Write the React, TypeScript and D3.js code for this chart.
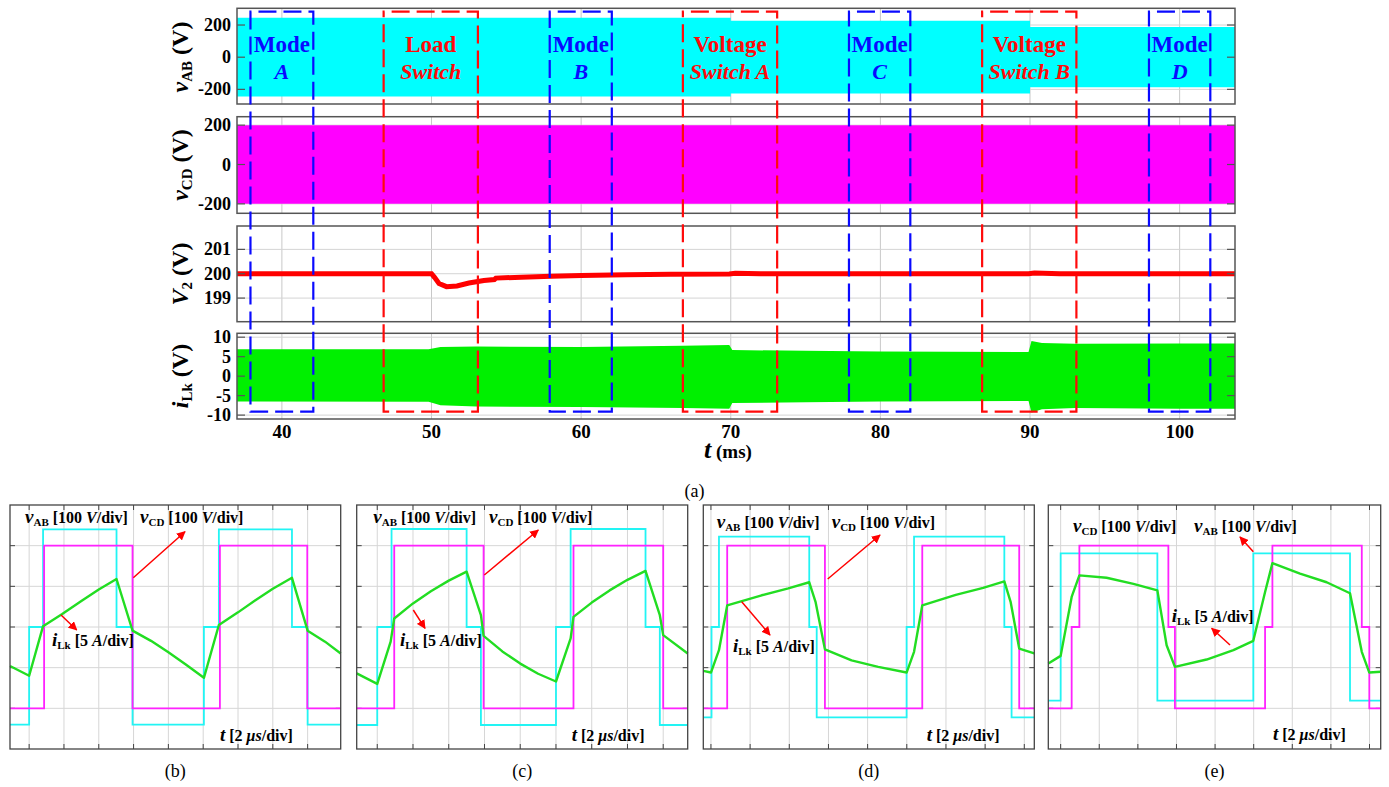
import React from "react";
import * as d3 from "d3";

const serif = "'Liberation Serif', 'Times New Roman', Times, serif";

// ---------- (a) long-run traces, t in ms ----------
const msTicks = [40, 50, 60, 70, 80, 90, 100];
// [t, amplitude] of the vAB / vCD switching bands
const vabAmplitude: [number, number][] = [[37, 245], [70, 226], [90, 187], [103.7, 187]];
const vcdAmplitude: [number, number][] = [[37, 200], [103.7, 200]];
// output voltage V2
const v2Trace: [number, number][] = [
  [37, 200], [50, 200], [50.2, 199.85], [50.5, 199.6], [51, 199.47], [51.7, 199.5],
  [52.5, 199.62], [53.5, 199.72], [54.2, 199.76], [54.3, 199.82], [56, 199.86],
  [58, 199.9], [60, 199.93], [63, 199.96], [66, 199.98], [69.9, 199.99], [70.3, 200.02],
  [72, 200], [89.9, 200], [90.3, 200.03], [92, 200], [103.7, 200],
];
// iLk envelope [t, upper, lower]
const ilkEnvelope: [number, number, number][] = [
  [37, 6.9, -6.5], [49.8, 6.9, -6.6], [50.6, 7.5, -7.5], [53, 7.6, -7.8], [60, 7.5, -7.9],
  [66.8, 7.8, -8.2], [69.9, 8.0, -8.4], [70.1, 6.7, -6.9], [75, 6.5, -6.7], [80, 6.3, -6.5],
  [89.9, 6.2, -6.4], [90.1, 9.0, -9.3], [90.8, 8.5, -8.5], [93, 8.3, -8.2], [100, 8.4, -8.4],
  [103.7, 8.4, -8.4],
];

const windowStart = [37.9, 46.8, 57.9, 66.8, 77.9, 86.8, 97.95];
const windowEnd = [42.1, 53.1, 62.05, 73.1, 82.0, 93.1, 102.05];
const windowKind = ["mode", "switch", "mode", "switch", "mode", "switch", "mode"];
const windowLine1 = ["Mode", "Load", "Mode", "Voltage", "Mode", "Voltage", "Mode"];
const windowLine2 = ["A", "Switch", "B", "Switch A", "C", "Switch B", "D"];

const rows = [
  { top: 8.3, bottom: 104, domain: [-291, 304], ticks: [200, 0, -200], sym: "v", sub: "AB" },
  { top: 116.7, bottom: 213.3, domain: [-248, 243], ticks: [200, 0, -200], sym: "v", sub: "CD" },
  { top: 226, bottom: 321.7, domain: [198.03, 201.96], ticks: [201, 200, 199], sym: "V", sub: "2" },
  { top: 333.3, bottom: 419, domain: [-11, 11], ticks: [10, 5, 0, -5, -10], sym: "i", sub: "Lk" },
];

// ---------- (b)-(e) scope captures, t in us, volts / amps ----------
const vabB: [number, number][] = [[-1.1, -240], [0, 0], [0.8, 240], [5.02, 0], [5.94, -240], [10.04, 0], [10.9, 240], [15.1, 0], [16.0, -240], [17.9, -240]];
const vcdB: [number, number][] = [[-1.1, -200], [0.86, 200], [5.94, -200], [10.96, 200], [15.98, -200], [17.9, -200]];
const ilkB: [number, number][] = [
  [-1.1, -4.8], [0, -6.0], [0.8, 0.1], [1.9, 1.6], [3.0, 3.2], [4.0, 4.6], [5.02, 5.9],
  [5.94, -0.45], [7.0, -1.7], [8.0, -3.1], [9.0, -4.6], [10.04, -6.25], [10.9, 0.25],
  [12.0, 1.8], [13.0, 3.3], [14.0, 4.7], [15.1, 6.05], [16.0, -0.45], [17.0, -1.8], [17.9, -3.25],
];

const vabC: [number, number][] = [[-1.15, -241], [0, 0], [0.8, 241], [5.0, 0], [5.8, -241], [10.0, 0], [10.82, 241], [15.01, 0], [15.81, -241], [17.37, -241]];
const vcdC: [number, number][] = [[-1.15, -200], [0.95, 200], [5.95, -200], [10.98, 200], [16.0, -200], [17.37, -200]];
const ilkC: [number, number][] = [
  [-1.15, -5.7], [0, -7.0], [0.75, -1.8], [0.95, 1.05], [2.0, 2.9], [3.0, 4.4], [4.0, 5.7],
  [5.0, 6.8], [5.8, 1.45], [5.95, -1.1], [7.0, -3.0], [8.0, -4.5], [9.0, -5.75], [10.0, -6.7],
  [10.82, -1.4], [10.98, 1.25], [12.0, 3.0], [13.0, 4.5], [14.0, 5.8], [15.01, 6.9],
  [15.81, 1.45], [16.0, -1.0], [17.37, -3.25],
];

const vabD: [number, number][] = [[-0.39, -222], [0.03, 0], [0.41, 222], [5.02, 0], [5.4, -222], [9.99, 0], [10.37, 222], [14.98, 0], [15.35, -222], [16.51, -222]];
const vcdD: [number, number][] = [[-0.39, -200], [0.83, 200], [5.82, -200], [10.79, 200], [15.74, -200], [16.51, -200]];
const ilkD: [number, number][] = [
  [-0.39, -5.4], [0, -5.6], [0.41, -2.85], [0.83, 2.65], [2.59, 3.9], [3.95, 4.75], [5.02, 5.5],
  [5.34, 3.1], [5.82, -2.75], [7.18, -4.1], [8.54, -4.9], [9.99, -5.6], [10.37, -3.05],
  [10.79, 2.65], [12.5, 3.95], [13.9, 4.8], [14.98, 5.6], [15.3, 3.1], [15.74, -2.65], [16.51, -3.25],
];

const vabE: [number, number][] = [[-0.64, -181], [0, 181], [5.01, -181], [9.98, 181], [14.99, -181], [16.58, -181]];
const vcdE: [number, number][] = [[-0.64, -200], [0.57, 0], [0.97, 200], [5.58, 0], [5.92, -200], [10.59, 0], [10.97, 200], [15.6, 0], [15.99, -200], [16.58, -200]];
const ilkE: [number, number][] = [
  [-0.64, -4.5], [0, -3.55], [0.57, 3.7], [0.97, 6.35], [2.38, 6.05], [3.77, 5.3], [5.01, 4.5],
  [5.49, -2.25], [5.92, -4.9], [7.56, -4.0], [8.95, -2.85], [9.98, -1.7], [10.59, 4.3],
  [10.97, 7.85], [12.4, 6.55], [13.78, 5.5], [14.99, 4.15], [15.6, -3.05], [15.99, -5.6], [16.58, -5.5],
];

const scopes = [
  {
    caption: "(b)", x0: 10, x1: 340.7, t: [-1.1, 17.9], vab: vabB, vcd: vcdB, ilk: ilkB,
    lab: { vab: [25, 523], vcd: [140, 523], ilk: [52, 646], t: [220, 741] },
    arrows: [[133.3, 577.7, 185, 531.7], [61, 615, 76.7, 630]],
  },
  {
    caption: "(c)", x0: 356.7, x1: 687.7, t: [-1.15, 17.37], vab: vabC, vcd: vcdC, ilk: ilkC,
    lab: { vab: [373.3, 523], vcd: [489, 523], ilk: [400, 646], t: [571.7, 741] },
    arrows: [[484.3, 575, 538.3, 530], [413.3, 610, 425, 628.3]],
  },
  {
    caption: "(d)", x0: 703.3, x1: 1034.3, t: [-0.39, 16.51], vab: vabD, vcd: vcdD, ilk: ilkD,
    lab: { vab: [716.7, 528], vcd: [831.7, 528], ilk: [733, 652], t: [926.7, 741] },
    arrows: [[827.7, 579, 880, 535], [741.7, 601.7, 770, 635]],
  },
  {
    caption: "(e)", x0: 1048.3, x1: 1380.7, t: [-0.64, 16.58], vab: vabE, vcd: vcdE, ilk: ilkE,
    lab: { vab: [1194, 532], vcd: [1073, 532], ilk: [1171.7, 622], t: [1273, 740] },
    arrows: [[1253.3, 551.7, 1240, 537], [1230, 645, 1211.7, 628.3]],
  },
];

const CYAN = "#22f4f4";
const MAGENTA = "#ff22ff";
const GREEN = "#22dd22";

function ScaleLabel({ x, y, sym, sub, amount, unit }: any) {
  return (
    <text x={x} y={y} fontSize={16} fontWeight="bold" fontFamily={serif}>
      <tspan fontStyle="italic" fontSize={19}>{sym}</tspan>
      {sub ? <tspan fontSize={11} dy={3}>{sub}</tspan> : null}
      <tspan dy={sub ? -3 : 0}>{` [${amount} `}</tspan>
      <tspan fontStyle="italic">{unit}</tspan>
      <tspan>/div]</tspan>
    </text>
  );
}

function LongRun() {
  const L = 237, R = 1235;
  const x = d3.scaleLinear().domain([37, 103.7]).range([L, R]);
  const ys = rows.map(r => d3.scaleLinear().domain(r.domain).range([r.bottom, r.top]));

  const band = (y: d3.ScaleLinear<number, number>) =>
    d3.area<[number, number]>().x(d => x(d[0])).y0(d => y(-d[1])).y1(d => y(d[1])).curve(d3.curveStepAfter);
  const ilkArea = d3.area<[number, number, number]>().x(d => x(d[0])).y0(d => ys[3](d[2])).y1(d => ys[3](d[1]));
  const v2Line = d3.line<[number, number]>().x(d => x(d[0])).y(d => ys[2](d[1]));

  const labelY = [57, 165, 274, 376];
  const boxTop = 11.7, boxBottom = 411.7;

  return (
    <g fontFamily={serif}>
      {rows.map((r, i) => (
        <g key={"p" + i}>
          <rect x={L} y={r.top} width={R - L} height={r.bottom - r.top} fill="#fff" />
          {msTicks.map(t => (
            <line key={t} x1={x(t)} x2={x(t)} y1={r.top} y2={r.bottom} stroke="#c8c8c8" strokeWidth={1} />
          ))}
          {r.ticks.map(v => (
            <line key={v} x1={L} x2={R} y1={ys[i](v)} y2={ys[i](v)} stroke="#d4d4d4" strokeWidth={1} />
          ))}
        </g>
      ))}

      <path d={band(ys[0])(vabAmplitude) || ""} fill="#00ffff" />
      <path d={band(ys[1])(vcdAmplitude) || ""} fill="#ff00ff" />
      <path d={v2Line(v2Trace) || ""} fill="none" stroke="#ff0000" strokeWidth={5} />
      <path d={ilkArea(ilkEnvelope) || ""} fill="#00f000" />

      {rows.map((r, i) => (
        <g key={"f" + i}>
          {r.ticks.map(v => (
            <g key={v}>
              <line x1={L} x2={L + 8} y1={ys[i](v)} y2={ys[i](v)} stroke="#555" strokeWidth={1.2} />
              <line x1={R - 8} x2={R} y1={ys[i](v)} y2={ys[i](v)} stroke="#555" strokeWidth={1.2} />
              <text x={L - 6} y={ys[i](v) + 6} textAnchor="end" fontSize={18} fontWeight="bold">{v}</text>
            </g>
          ))}
          <rect x={L} y={r.top} width={R - L} height={r.bottom - r.top} fill="none" stroke="#555" strokeWidth={1.5} />
          <text transform={`translate(188,${labelY[i]}) rotate(-90)`} textAnchor="middle" fontSize={24} fontWeight="bold">
            <tspan fontStyle="italic">{r.sym}</tspan>
            <tspan fontSize={15} dy={4}>{r.sub}</tspan>
            <tspan dy={-4}> (V)</tspan>
          </text>
        </g>
      ))}

      {msTicks.map(t => (
        <text key={t} x={x(t)} y={438} textAnchor="middle" fontSize={19} fontWeight="bold">{t}</text>
      ))}
      <text x={728} y={458} textAnchor="middle" fontWeight="bold">
        <tspan fontStyle="italic" fontSize={26}>t</tspan>
        <tspan fontSize={19}> (ms)</tspan>
      </text>

      {windowStart.map((t0, i) => {
        const t1 = windowEnd[i];
        const col = windowKind[i] === "mode" ? "#0a0aff" : "#ff0a0a";
        const cx = x((t0 + t1) / 2);
        return (
          <g key={"w" + i}>
            <path
              d={`M${x(t0)},${boxTop}H${x(t1)}V${boxBottom}H${x(t0)}Z`}
              fill="none" stroke={col} strokeWidth={2.2} strokeDasharray="18 7" strokeDashoffset={-8}
            />
            <text x={cx} y={52} textAnchor="middle" fontSize={23} fontWeight="bold" fill={col}>{windowLine1[i]}</text>
            <text x={cx} y={79} textAnchor="middle" fontSize={22} fontWeight="bold" fontStyle="italic" fill={col}>{windowLine2[i]}</text>
          </g>
        );
      })}

      <text x={694.5} y={497} textAnchor="middle" fontSize={18}>(a)</text>
    </g>
  );
}

function Scope({ cfg }: any) {
  const top = 505, bottom = 749;
  const x = d3.scaleLinear().domain(cfg.t).range([cfg.x0, cfg.x1]);
  const yV = d3.scaleLinear().domain([-300, 300]).range([bottom, top]);
  const yI = d3.scaleLinear().domain([-15, 15]).range([bottom, top]);
  const gridV = [-200, -100, 0, 100, 200];
  const gridT = d3.range(0, 17, 2).filter(t => t > cfg.t[0] && t < cfg.t[1]);
  const step = d3.line<[number, number]>().x(d => x(d[0])).y(d => yV(d[1])).curve(d3.curveStepAfter);
  const lin = d3.line<[number, number]>().x(d => x(d[0])).y(d => yI(d[1]));

  return (
    <g fontFamily={serif}>
      <rect x={cfg.x0} y={top} width={cfg.x1 - cfg.x0} height={bottom - top} fill="#fff" />
      {gridT.map(t => (
        <g key={"t" + t}>
          <line x1={x(t)} x2={x(t)} y1={top} y2={bottom} stroke="#d6d6d6" strokeWidth={1} />
          <line x1={x(t)} x2={x(t)} y1={bottom - 5} y2={bottom} stroke="#444" strokeWidth={1} />
          <line x1={x(t)} x2={x(t)} y1={top} y2={top + 5} stroke="#444" strokeWidth={1} />
        </g>
      ))}
      {gridV.map(v => (
        <g key={"v" + v}>
          <line x1={cfg.x0} x2={cfg.x1} y1={yV(v)} y2={yV(v)} stroke="#d6d6d6" strokeWidth={1} />
          <line x1={cfg.x0} x2={cfg.x0 + 5} y1={yV(v)} y2={yV(v)} stroke="#444" strokeWidth={1} />
          <line x1={cfg.x1 - 5} x2={cfg.x1} y1={yV(v)} y2={yV(v)} stroke="#444" strokeWidth={1} />
        </g>
      ))}
      <path d={step(cfg.vab) || ""} fill="none" stroke={CYAN} strokeWidth={1.8} />
      <path d={step(cfg.vcd) || ""} fill="none" stroke={MAGENTA} strokeWidth={1.8} />
      <path d={lin(cfg.ilk) || ""} fill="none" stroke={GREEN} strokeWidth={2.4} strokeLinejoin="round" />
      <rect x={cfg.x0} y={top} width={cfg.x1 - cfg.x0} height={bottom - top} fill="none" stroke="#444" strokeWidth={1.3} />

      <ScaleLabel x={cfg.lab.vab[0]} y={cfg.lab.vab[1]} sym="v" sub="AB" amount="100" unit="V" />
      <ScaleLabel x={cfg.lab.vcd[0]} y={cfg.lab.vcd[1]} sym="v" sub="CD" amount="100" unit="V" />
      <ScaleLabel x={cfg.lab.ilk[0]} y={cfg.lab.ilk[1]} sym="i" sub="Lk" amount="5" unit="A" />
      <ScaleLabel x={cfg.lab.t[0]} y={cfg.lab.t[1]} sym="t" sub="" amount="2" unit="μs" />

      {cfg.arrows.map((a: number[], i: number) => (
        <line key={i} x1={a[0]} y1={a[1]} x2={a[2]} y2={a[3]} stroke="#ff0000" strokeWidth={1.5} markerEnd="url(#arrowRed)" />
      ))}
      <text x={(cfg.x0 + cfg.x1) / 2} y={777} textAnchor="middle" fontSize={18}>{cfg.caption}</text>
    </g>
  );
}

export default function App() {
  return (
    <svg width={1389} height={787} style={{ position: "absolute", left: 0, top: 0, background: "#fff" }}>
      <defs>
        <marker id="arrowRed" viewBox="0 0 10 10" refX={9} refY={5} markerWidth={9} markerHeight={9}
          markerUnits="userSpaceOnUse" orient="auto">
          <path d="M0,0 L10,5 L0,10 Z" fill="#ff0000" />
        </marker>
      </defs>
      <rect width={1389} height={787} fill="#fff" />
      <LongRun />
      {scopes.map(s => <Scope key={s.caption} cfg={s} />)}
    </svg>
  );
}
